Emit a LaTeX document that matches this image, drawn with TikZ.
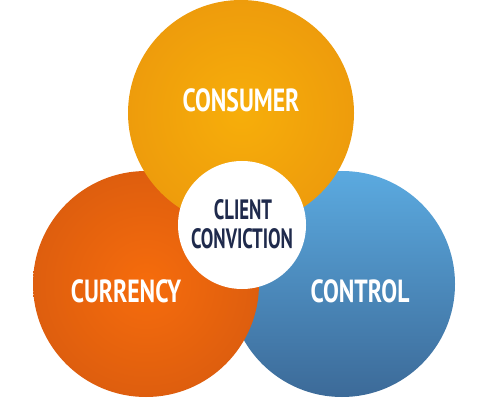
\documentclass[tikz,border=0pt]{standalone}
\usepackage{fontspec}
\setmainfont{PT Sans}
\definecolor{yelA}{HTML}{F7AE0A}
\definecolor{yelB}{HTML}{EE9C0C}
\definecolor{redA}{HTML}{F66C0C}
\definecolor{redB}{HTML}{DE5E0E}
\definecolor{bluA}{HTML}{5BAAE0}
\definecolor{bluB}{HTML}{3C6A98}
\definecolor{navy}{HTML}{1F2A4C}
\begin{document}
\begin{tikzpicture}[x=1pt,y=-1pt,
  lbl/.style={text=white,anchor=base,inner sep=0pt,font=\fontsize{32}{32}\selectfont\bfseries},
  ctr/.style={text=navy,anchor=base,inner sep=0pt,font=\fontsize{28}{28}\selectfont\bfseries}]
\useasboundingbox (0,0) rectangle (494,411);
\fill[white] (0,0) rectangle (494,411);
% right blue
\shade[top color=bluA,bottom color=bluB] (342,284) circle (113);
\coordinate (cR) at (342,284);
% left red
\shade[inner color=redA,outer color=redB] (146,284) circle (113);
\coordinate (cL) at (146,284);
% top yellow
\shade[inner color=yelA,outer color=yelB] (241,113) circle (113);
\coordinate (cT) at (241,113);
% white centre
\fill[white] (242,225) circle (64);
\node[lbl] (t1) at (241,112) {\scalebox{0.74}[1]{CONSUMER}};
\node[lbl] (t2) at (126,302) {\scalebox{0.74}[1]{CURRENCY}};
\node[lbl] (t3) at (360,302) {\scalebox{0.74}[1]{CONTROL}};
\node[ctr] (t4) at (243,220) {\scalebox{0.67}[1]{CLIENT}};
\node[ctr] (t5) at (242,248) {\scalebox{0.67}[1]{CONVICTION}};
\end{tikzpicture}
\end{document}
